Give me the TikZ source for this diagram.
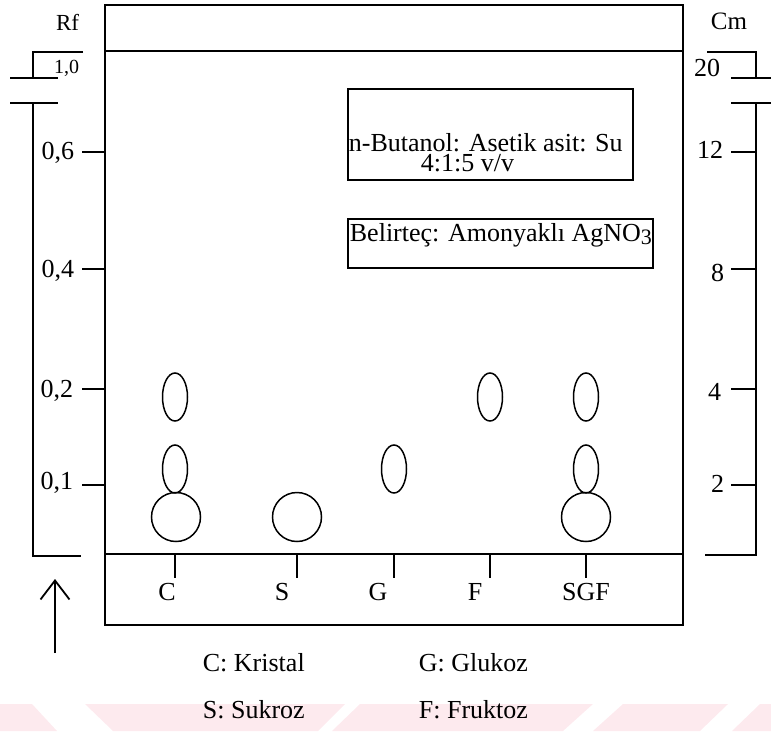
\documentclass[tikz,border=0pt]{standalone}
\usepackage{fontspec}
\setmainfont{Liberation Serif}
\usetikzlibrary{arrows.meta,shapes.geometric}
\definecolor{wmpink}{RGB}{253,234,238}
\begin{document}
\begin{tikzpicture}[x=1pt,y=-1pt,line width=1.8pt,
  lbl/.style={inner sep=0pt,font=\fontsize{26}{30}\selectfont},
  small/.style={inner sep=0pt,font=\fontsize{20}{24}\selectfont},
  oval/.style={draw,ellipse,line width=1.5pt,inner sep=0pt,minimum width=25pt,minimum height=48pt},
  blob/.style={draw,circle,line width=1.5pt,inner sep=0pt,minimum size=49pt},
  infobox/.style={draw,line width=1.5pt,inner sep=0pt,anchor=north west}]
\useasboundingbox (0,0) rectangle (771,731);
% watermark stripes
\fill[wmpink] (0,704) -- (32,704) -- (57,731) -- (0,731) -- cycle;
\fill[wmpink] (85,704) -- (345,704) -- (318,731) -- (113,731) -- cycle;
\fill[wmpink] (360,704) -- (593,704) -- (563,731) -- (332,731) -- cycle;
\fill[wmpink] (623,704) -- (728,704) -- (700,731) -- (593,731) -- cycle;
\fill[wmpink] (760,704) -- (771,704) -- (771,731) -- (732,731) -- cycle;
% chamber
\draw (105,5) rectangle (683,625);
\draw (105,51) -- (683,51);
\draw (105,554) -- (683,554);
% left scale
\draw (83,52) -- (33,52) -- (33,78);
\draw (10,78) -- (58,78);
\draw (10,103) -- (58,103);
\draw (33,103) -- (33,556) -- (81,556);
\foreach \yy in {152,269,389,485} \draw (82,\yy) -- (105,\yy);
\node[lbl,font=\fontsize{23}{26}\selectfont,anchor=base east] (rf) at (80,30) {Rf};
\node[small,anchor=base east] (r10) at (80,73) {1,0};
\node[lbl,anchor=base east] (r06) at (75,159) {0,6};
\node[lbl,anchor=base east] (r04) at (75,277) {0,4};
\node[lbl,anchor=base east] (r02) at (74,397) {0,2};
\node[lbl,anchor=base east] (r01) at (74,489) {0,1};
% right scale
\draw (707,52) -- (756,52) -- (756,78);
\draw (731,78) -- (771,78);
\draw (731,103) -- (771,103);
\draw (756,103) -- (756,555) -- (705,555);
\foreach \yy in {152,269,389,485} \draw (731,\yy) -- (756,\yy);
\node[lbl,font=\fontsize{25}{28}\selectfont,anchor=base west] (cm) at (710,29) {Cm};
\node[lbl,anchor=base east] (c20) at (721,76) {20};
\node[lbl,anchor=base east] (c12) at (724,158) {12};
\node[lbl,anchor=base east] (c8) at (725,281) {8};
\node[lbl,anchor=base east] (c4) at (722,400) {4};
\node[lbl,anchor=base east] (c2) at (725,492) {2};
% info boxes
\node[infobox,minimum width=285pt,minimum height=91pt] (box1) at (347,88) {};
\node[lbl,anchor=base west,align=left,font=\fontsize{26}{20}\selectfont] (solv) at (348,171)
  {n-Butanol: Asetik asit: Su\\\hspace*{72pt}4:1:5 v/v};
\node[infobox,minimum width=305pt,minimum height=49pt] (box2) at (347,218) {};
\node[lbl,anchor=base west] (reag) at (349,241) {Belirteç: Amonyaklı AgNO\raisebox{-0.3ex}{\fontsize{22}{24}\selectfont 3}};
% spots
\node[oval] (c1) at (175,397) {};
\node[oval] (c2s) at (175,469) {};
\node[blob] (c3) at (176,517) {};
\node[blob] (s1) at (297,517) {};
\node[oval] (g1) at (394,469) {};
\node[oval] (f1) at (490,397) {};
\node[oval] (m1) at (586,397) {};
\node[oval] (m2) at (586,469) {};
\node[blob] (m3) at (586,517) {};
% origin ticks and lane labels
\foreach \xx in {175,297,394,490,586} \draw[line width=1.6pt] (\xx,554) -- (\xx,578);
\node[lbl,anchor=base] (lc) at (167,600) {C};
\node[lbl,anchor=base] (ls) at (282,600) {S};
\node[lbl,anchor=base] (lg) at (378,600) {G};
\node[lbl,anchor=base] (lf) at (475,600) {F};
\node[lbl,anchor=base] (lsgf) at (586,600) {SGF};
% solvent direction arrow
\coordinate (atail) at (55,653);
\coordinate (ahead) at (55,579);
\draw[-{Straight Barb[length=19pt,width=29pt]}] (atail) -- (ahead);
% legend
\node[lbl,anchor=base west] (kc) at (202,671) {C: Kristal};
\node[lbl,anchor=base west] (kg) at (418,671) {G: Glukoz};
\node[lbl,anchor=base west] (ks) at (202,718) {S: Sukroz};
\node[lbl,anchor=base west] (kf) at (418,718) {F: Fruktoz};
\end{tikzpicture}
\end{document}
